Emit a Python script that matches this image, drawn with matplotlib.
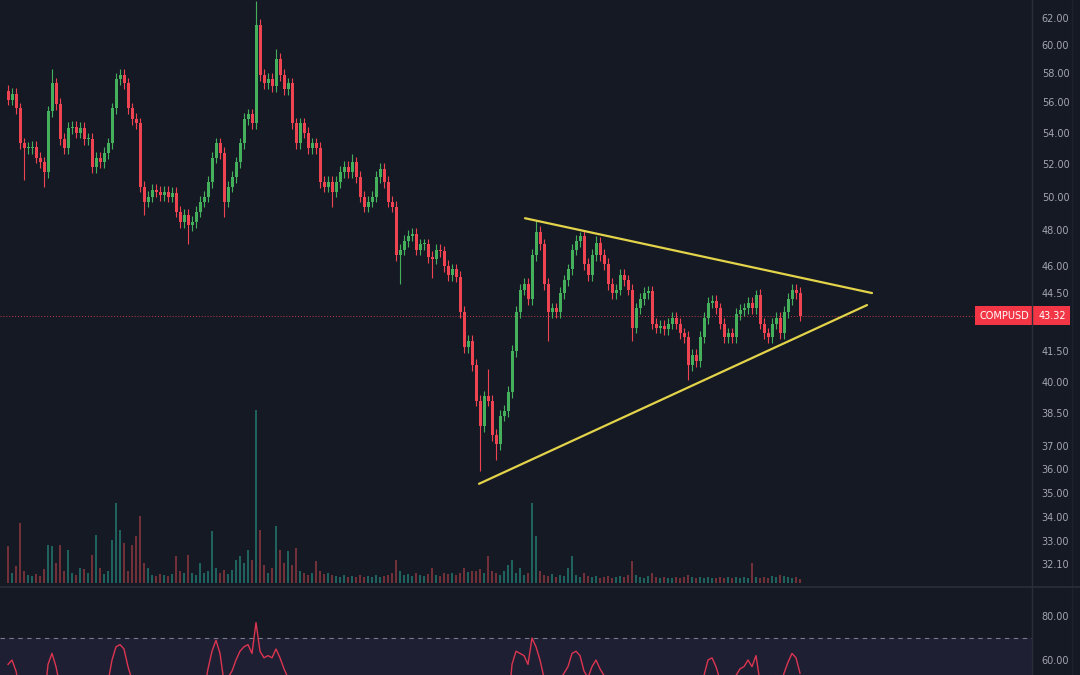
import matplotlib
matplotlib.use("Agg")
import matplotlib.pyplot as plt
import numpy as np
from matplotlib.lines import Line2D
from matplotlib.ticker import NullLocator

# ---- data ----
closes = [
    56.2, 56.6, 55.6, 53.3, 53.0, 53.0, 53.1, 52.4, 52.1, 51.5,
    55.4, 57.3, 55.9, 53.6, 53.0, 54.3, 54.4, 54.0, 54.3, 53.6,
    53.6, 51.8, 52.4, 52.1, 52.7, 53.3, 55.6, 57.6, 57.9, 57.3,
    55.6, 54.9, 54.6, 50.6, 49.7, 50.0, 50.4, 50.3, 50.1, 50.3,
    50.0, 50.2, 49.1, 48.5, 48.9, 48.3, 48.5, 49.1, 49.7, 50.0,
    50.9, 52.4, 53.3, 52.7, 49.7, 50.6, 51.2, 52.1, 53.3, 54.9,
    55.2, 54.6, 61.5, 57.9, 57.3, 57.6, 57.1, 59.0, 57.9, 56.9,
    57.3, 54.6, 53.3, 54.6, 54.0, 53.0, 53.3, 53.0, 50.9, 50.6,
    50.9, 50.3, 50.9, 51.5, 51.8, 51.5, 52.1, 51.2, 50.0, 49.4,
    49.7, 50.0, 51.2, 51.7, 50.9, 49.7, 49.4, 46.6, 46.9, 47.4,
    47.7, 47.8, 46.9, 47.2, 47.2, 46.5, 46.4, 46.9, 46.8, 46.0,
    45.5, 45.8, 45.4, 43.5, 41.7, 42.0, 40.8, 39.1, 37.9, 39.3,
    39.1, 37.5, 37.1, 38.4, 38.6, 39.5, 41.5, 43.5, 44.7, 45.0,
    44.2, 46.6, 47.9, 47.2, 45.0, 43.5, 43.7, 43.5, 44.5, 45.2,
    45.8, 46.9, 47.4, 47.7, 46.1, 45.5, 46.6, 47.3, 46.6, 46.1,
    45.0, 44.5, 44.7, 45.5, 45.2, 44.7, 42.7, 43.7, 44.2, 44.5,
    44.6, 42.9, 42.7, 42.8, 42.6, 42.9, 43.2, 42.9, 42.4, 42.2,
    40.8, 41.3, 41.0, 42.2, 43.2, 44.0, 44.1, 43.7, 42.9, 42.2,
    42.4, 42.2, 43.4, 43.6, 43.7, 44.0, 43.7, 44.4, 42.9, 42.4,
    42.2, 42.9, 43.2, 42.4, 43.5, 44.2, 44.7, 44.5, 43.32,
]
first_open = 56.8

# wick extremes that stick out from the bodies
wick_high = {11: 58.3, 28: 58.3, 62: 63.3, 67: 59.7, 86: 52.6, 120: 40.6,
             132: 48.6, 143: 47.9, 147: 47.7, 187: 44.7, 196: 45.0}
wick_low = {4: 51.0, 9: 50.6, 34: 48.9, 45: 47.2, 54: 48.8, 81: 49.4,
            98: 45.0, 106: 45.3, 118: 35.9, 122: 36.4, 135: 42.0,
            156: 42.0, 170: 40.1}

volume = [
    37, 10, 17, 60, 12, 8, 7, 9, 7, 14,
    38, 37, 20, 38, 12, 33, 10, 8, 15, 14,
    10, 28, 48, 15, 9, 12, 43, 80, 53, 40,
    12, 38, 47, 67, 20, 15, 8, 7, 9, 8,
    7, 9, 27, 12, 10, 28, 10, 8, 20, 10,
    12, 52, 15, 10, 13, 9, 13, 23, 27, 20,
    33, 23, 173, 53, 18, 10, 15, 57, 33, 20,
    32, 18, 35, 12, 10, 8, 10, 22, 12, 9,
    10, 8, 7, 6, 8, 6, 7, 6, 8, 6,
    7, 6, 8, 6, 7, 8, 10, 23, 12, 8,
    9, 7, 10, 8, 7, 9, 15, 8, 7, 10,
    9, 10, 8, 10, 15, 11, 12, 12, 14, 10,
    27, 12, 10, 8, 12, 18, 23, 10, 15, 8,
    10, 80, 47, 12, 8, 7, 9, 6, 8, 7,
    15, 27, 8, 6, 10, 7, 6, 7, 5, 6,
    7, 5, 6, 7, 6, 8, 22, 8, 6, 5,
    7, 10, 6, 5, 6, 5, 5, 6, 5, 6,
    8, 6, 5, 6, 5, 6, 5, 5, 6, 5,
    6, 5, 6, 5, 6, 5, 20, 6, 5, 6,
    5, 7, 6, 8, 7, 6, 5, 6, 4,
]

rsi = [
    58, 60, 55, 46, 44, 43, 44, 42, 41, 40,
    58, 63, 57, 48, 45, 50, 51, 49, 50, 48,
    48, 42, 45, 44, 47, 50, 60, 66, 67, 65,
    57, 51, 50, 38, 35, 37, 39, 38, 38, 40,
    38, 40, 36, 35, 37, 35, 37, 40, 44, 46,
    56, 64, 69, 63, 50, 52, 55, 60, 64, 66,
    67, 63, 77, 64, 61, 62, 61, 65, 61, 56,
    52, 44, 40, 45, 43, 40, 42, 41, 36, 36,
    37, 36, 38, 40, 41, 40, 43, 39, 36, 35,
    36, 37, 41, 43, 40, 36, 35, 30, 32, 34,
    36, 37, 36, 38, 38, 36, 35, 36, 36, 34,
    33, 34, 33, 30, 26, 27, 25, 23, 21, 28,
    28, 25, 24, 32, 33, 38, 58, 64, 63, 62,
    58, 70, 66, 60, 52, 47, 48, 47, 51, 54,
    57, 63, 64, 62, 55, 52, 57, 60, 56, 53,
    48, 46, 47, 51, 50, 48, 40, 45, 47, 48,
    49, 42, 41, 42, 41, 43, 45, 43, 41, 40,
    35, 38, 37, 45, 53, 60, 61, 57, 51, 46,
    47, 46, 53, 56, 57, 60, 57, 62, 50, 47,
    46, 51, 53, 47, 54, 59, 63, 61, 54,
]

# triangle trendlines (candle index, price)
upper_line = [(129.25, 48.71), (216.0, 44.51)]
lower_line = [(117.75, 35.37), (214.75, 43.87)]

# 43.00 sits under the last-price label, so it is left out
price_ticks = [62, 60, 58, 56, 54, 52, 50, 48, 46, 44.5, 41.5, 40,
               38.5, 37, 36, 35, 34, 33, 32.1]
rsi_ticks = [80, 60]
symbol = "COMPUSD"
last_price = 43.32

# ---- colours ----
BG = "#151924"
UP = "#45b05b"
DOWN = "#ee4350"
VOL_UP = "#1f625e"
VOL_DOWN = "#723039"
TXT = "#a3a6af"
GRID = "#2a2e39"

W, H = 1080, 675
fig = plt.figure(figsize=(W / 100, H / 100), dpi=100)
fig.patch.set_facecolor(BG)


def px_axes(x0, y0, x1, y1, **kw):
    return fig.add_axes([x0 / W, 1 - y1 / H, (x1 - x0) / W, (y1 - y0) / H], **kw)


n = len(closes)
idx = np.arange(n)
c = np.array(closes)
o = np.concatenate([[first_open], c[:-1]])
up = c >= o
hi = np.maximum(o, c) * 1.007
lo = np.minimum(o, c) * 0.993
for k, v in wick_high.items():
    hi[k] = v
for k, v in wick_low.items():
    lo[k] = v

# volume pane (under the price candles)
vax = px_axes(0, 0, 1032, 585)
vax.set_facecolor(BG)
vax.bar(idx, volume, width=0.3, color=np.where(up, VOL_UP, VOL_DOWN))
vax.set_ylim(-2, 583)
vax.set_xlim(-2, 256)
vax.axis("off")

# price pane
ax = px_axes(0, 0, 1032, 585, sharex=vax)
ax.set_facecolor("none")
ax.set_yscale("log")
ax.set_ylim(31.31, 63.36)
cols = np.where(up, UP, DOWN)
ax.vlines(idx, lo, hi, color=cols, lw=0.8, zorder=2)
body = np.maximum(np.abs(c - o), 0.08)
ax.bar(idx, body, bottom=np.minimum(o, c), width=0.75, color=cols, zorder=3)

for line in (upper_line, lower_line):
    xs, ys = zip(*line)
    ax.plot(xs, ys, color="#e3d34a", lw=1.6, solid_capstyle="round", zorder=4)

ax.axhline(last_price, color=DOWN, lw=0.7, ls=(0, (1, 2)), alpha=0.8, zorder=1)

ax.yaxis.tick_right()
ax.set_yticks(price_ticks)
ax.set_yticklabels([f"{t:.2f}" for t in price_ticks])
ax.yaxis.set_minor_locator(NullLocator())
ax.tick_params(axis="y", length=0, pad=7, labelsize=7, colors=TXT)
ax.tick_params(axis="x", bottom=False, labelbottom=False)
for s in ax.spines.values():
    s.set_visible(False)

box = dict(boxstyle="square,pad=0.45", fc="#f23645", ec="none")
ax.annotate(symbol, xy=(0.9975, last_price), xycoords=("axes fraction", "data"),
            ha="right", va="center", fontsize=7, color="white", bbox=box, zorder=10)
ax.annotate(f"{last_price:.2f}", xy=(1.006, last_price), xycoords=("axes fraction", "data"),
            ha="left", va="center", fontsize=7, color="white",
            bbox=dict(boxstyle="square,pad=0.45", fc="#f23645", ec="none"),
            annotation_clip=False, zorder=10)

# RSI pane
rax = px_axes(0, 588, 1032, 675, sharex=vax)
rax.set_facecolor(BG)
rax.set_ylim(53.2, 92.7)
rax.axhspan(30, 70, color="#7e57c2", alpha=0.1, lw=0)
rax.axhline(70, color="#787b86", lw=0.8, ls=(0, (4, 4)))
rax.plot(idx, rsi, color="#dc3550", lw=1.0)
rax.yaxis.tick_right()
rax.set_yticks(rsi_ticks)
rax.set_yticklabels([f"{t:.2f}" for t in rsi_ticks])
rax.tick_params(axis="y", length=0, pad=7, labelsize=7, colors=TXT)
rax.tick_params(axis="x", bottom=False, labelbottom=False)
for s in rax.spines.values():
    s.set_visible(False)

# pane separators
fig.add_artist(Line2D([1032 / W, 1032 / W], [0, 1], color=GRID, lw=1))
fig.add_artist(Line2D([1072 / W, 1072 / W], [0, 1], color="#1e222d", lw=1))
fig.add_artist(Line2D([0, 1], [1 - 587 / H, 1 - 587 / H], color=GRID, lw=1.2))

fig.savefig("out.png", dpi=100, facecolor=BG)
